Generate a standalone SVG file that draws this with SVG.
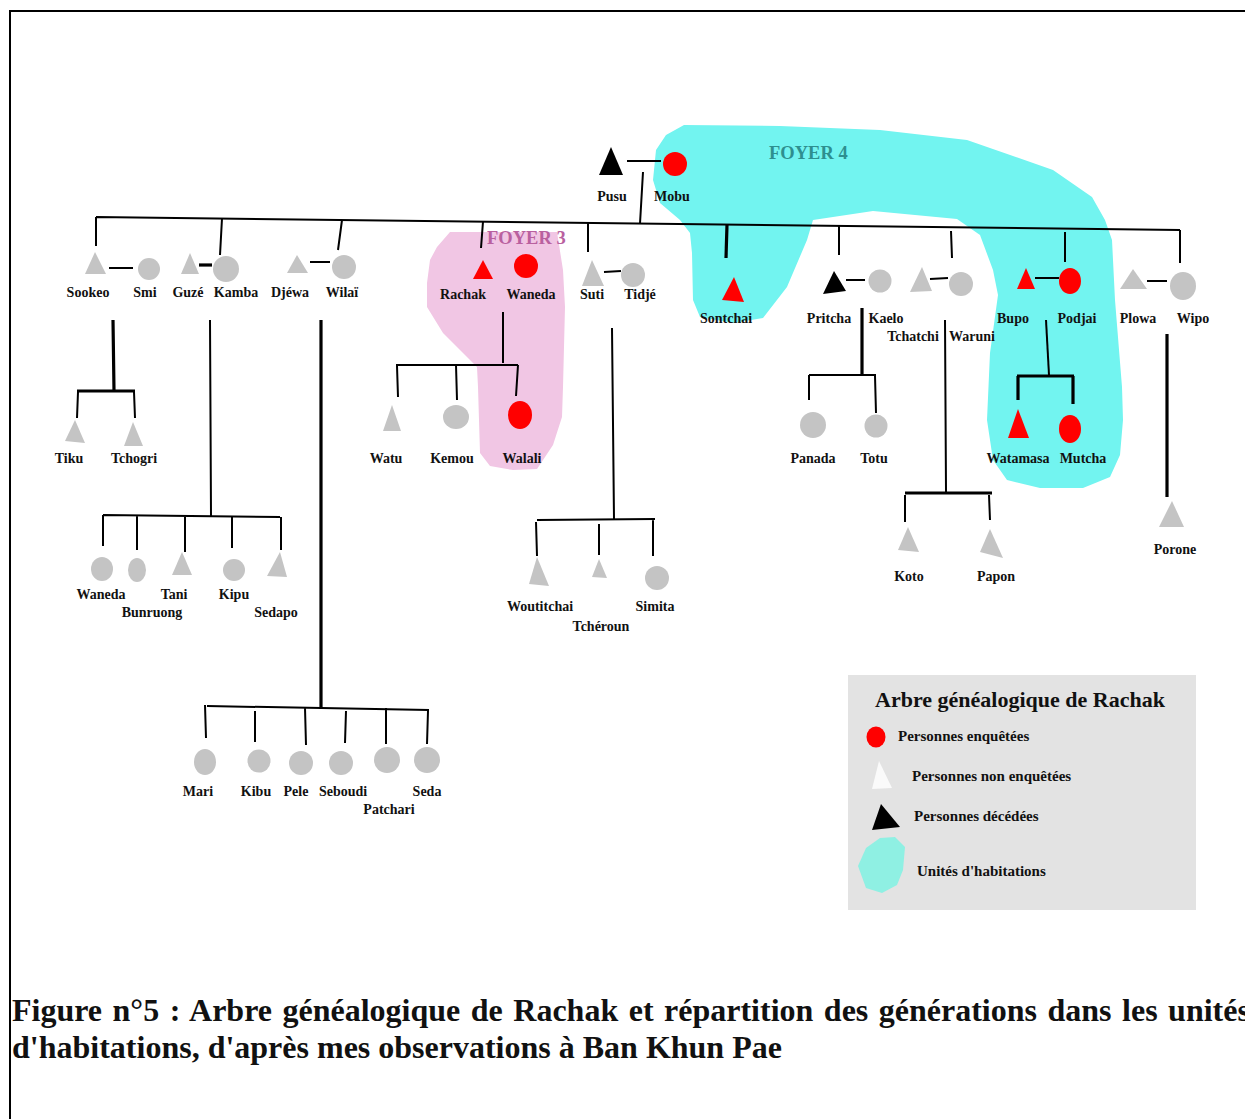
<svg xmlns="http://www.w3.org/2000/svg" width="1245" height="1119" viewBox="0 0 1245 1119">
<style>
.c{stroke:#000;stroke-width:2;fill:none}
.t{stroke-width:3.2}
.g{fill:#c4c4c4}
.r{fill:#ff0000}
.k{fill:#000}
text{font-family:"Liberation Serif","Times New Roman",serif;font-weight:bold;fill:#111}
.n{font-size:14px;text-anchor:middle}
.lg{font-size:15px}
text.f4{fill:#2e8f8f;font-size:18.5px}
text.f3{fill:#b9609f;font-size:18.5px}
</style>
<rect x="0" y="0" width="1245" height="1119" fill="#fff"/>
<path d="M1260,11 H10 V1130" fill="none" stroke="#000" stroke-width="2"/>

<g id="foyers">
<path id="foyer3" fill="#f1c6e4" d="M450,232 L557,232 L563,270 L565,307 L563,387 L562,417 L553,445 L537,469 L513,470 L490,466 L480,453 L478,387 L477,367 L443,333 L427,307 L427,283 L430,260 L437,247 Z"/>
<path id="foyer4" fill="#72f4f0" d="M684,125 L780,126 L880,130 L967,140 L1053,170 L1092,197 L1105,220 L1112,240 L1115,300 L1122,387 L1123,420 L1120,455 L1110,477 L1083,488 L1040,488 L1007,480 L993,460 L987,420 L990,353 L998,295 L993,270 L980,235 L957,219 L873,211 L813,220 L807,240 L787,287 L763,318 L733,323 L700,317 L693,300 L692,253 L690,233 L680,220 L660,203 L653,180 L656,150 L666,135 Z"/>
<text class="f4" x="769" y="159">FOYER 4</text>
<text class="f3" x="487" y="244">FOYER 3</text>
</g>

<g id="connectors" class="c">
<path d="M96,217 L1180,230 M96,217 V246"/>
<path d="M222,218.5 L220,255 M342,220 L338,250 M483,221.6 L481,248 M588,223 V252 M643,172 L640,223.5 M839,226 V255 M951,231 L952,258 M1065,232 V262 M1180,230 V263"/>
<path class="t" d="M727,224.6 L726,258"/>
<path d="M109,268 H133 M310,262 H330 M627,161 H661 M604,272 L621,271 M846,280 H865 M930,279 L948,278 M1035,278 H1059 M1147,281 H1167"/>
<path class="t" d="M199,265 H212"/>
<path class="t" d="M113,320 L114,391 M77,391 H135"/>
<path d="M78,392 L77,418 M134,392 L135,418"/>
<path d="M210,320 L211,516 M103,515 L280,517 M103,515 V546 M137,516 V550 M185,516 V552 M232,516 V548 M281,517 V550"/>
<path class="t" d="M321,320 V708"/>
<path d="M207,706 L429,710 M205,705 L206,738 M255,711 V742 M305,708 L306,745 M346,711 L345,743 M386,708 V744 M428,711 L427,744"/>
<path d="M503,312 V363 M396,365 H518 M397,366 L398,397 M456,365 L457,400 M518,365 L516,396"/>
<path d="M612,328 L614,519 M537,520 L655,519 M536,522 L537,556 M599,524 V555 M653,520 V556"/>
<path class="t" d="M862,308 V375"/>
<path d="M809,375 H876 M809,375 V400 M875,376 L876,413"/>
<path d="M945,320 L946,492 M905,495 V522 M989,495 L990,520"/>
<path class="t" d="M905,493 H992"/>
<path d="M1046,320 L1049,375"/>
<path class="t" d="M1017,376 H1074 M1018,376 V400 M1073,376 V404"/>
<path class="t" d="M1167,334 V497"/>
</g>

<g id="pusu"><polygon class="k" points="611,147 599,175 623,175"/><text class="n" x="612" y="201">Pusu</text></g>
<g id="mobu"><circle class="r" cx="675" cy="164" r="12"/><text class="n" x="672" y="201">Mobu</text></g>
<g id="sookeo"><polygon class="g" points="95,252 85,274 106,274"/><text class="n" x="88" y="297">Sookeo</text></g>
<g id="smi"><circle class="g" cx="149" cy="269" r="11"/><text class="n" x="145" y="297">Smi</text></g>
<g id="guze"><polygon class="g" points="190,253 181,274 199,274"/><text class="n" x="188" y="297">Guzé</text></g>
<g id="kamba"><circle class="g" cx="226" cy="269" r="13"/><text class="n" x="236" y="297">Kamba</text></g>
<g id="djewa"><polygon class="g" points="297,255 287,273 308,273"/><text class="n" x="290" y="297">Djéwa</text></g>
<g id="wilai"><circle class="g" cx="344" cy="267" r="12"/><text class="n" x="342" y="297">Wilaï</text></g>
<g id="tiku"><polygon class="g" points="75,420 65,441 85,443"/><text class="n" x="69" y="463">Tiku</text></g>
<g id="tchogri"><polygon class="g" points="133,422 124,446 143,446"/><text class="n" x="134" y="463">Tchogri</text></g>
<g id="waneda-k"><ellipse class="g" cx="102" cy="569" rx="11" ry="12"/><text class="n" x="101" y="599">Waneda</text></g>
<g id="bunruong"><ellipse class="g" cx="137" cy="570" rx="9" ry="12"/><text class="n" x="152" y="617">Bunruong</text></g>
<g id="tani"><polygon class="g" points="182,552 172,575 192,575"/><text class="n" x="174" y="599">Tani</text></g>
<g id="kipu"><circle class="g" cx="234" cy="570" r="11"/><text class="n" x="234" y="599">Kipu</text></g>
<g id="sedapo"><polygon class="g" points="280,552 267,576 287,577"/><text class="n" x="276" y="617">Sedapo</text></g>
<g id="mari"><ellipse class="g" cx="205" cy="762" rx="11" ry="13"/><text class="n" x="198" y="796">Mari</text></g>
<g id="kibu"><circle class="g" cx="259" cy="761" r="11.5"/><text class="n" x="256" y="796">Kibu</text></g>
<g id="pele"><circle class="g" cx="301" cy="763" r="12"/><text class="n" x="296" y="796">Pele</text></g>
<g id="seboudi"><circle class="g" cx="341" cy="763" r="12"/><text class="n" x="343" y="796">Seboudi</text></g>
<g id="patchari"><circle class="g" cx="387" cy="760" r="13"/><text class="n" x="389" y="814">Patchari</text></g>
<g id="seda"><circle class="g" cx="427" cy="760" r="13"/><text class="n" x="427" y="796">Seda</text></g>
<g id="rachak"><polygon class="r" points="483,260 473,279 493,279"/><text class="n" x="463" y="299">Rachak</text></g>
<g id="waneda"><circle class="r" cx="526" cy="266" r="12"/><text class="n" x="531" y="299">Waneda</text></g>
<g id="watu"><polygon class="g" points="392,405 383,431 401,431"/><text class="n" x="386" y="463">Watu</text></g>
<g id="kemou"><ellipse class="g" cx="456" cy="417" rx="13" ry="12"/><text class="n" x="452" y="463">Kemou</text></g>
<g id="walali"><ellipse class="r" cx="520" cy="415" rx="12" ry="14"/><text class="n" x="522" y="463">Walali</text></g>
<g id="suti"><polygon class="g" points="592,260 582,286 604,286"/><text class="n" x="592" y="299">Suti</text></g>
<g id="tidje"><circle class="g" cx="633" cy="275" r="12"/><text class="n" x="640" y="299">Tidjé</text></g>
<g id="woutitchai"><polygon class="g" points="537,557 529,584 549,586"/><text class="n" x="540" y="611">Woutitchai</text></g>
<g id="tcheroun"><polygon class="g" points="599,559 592,577 607,578"/><text class="n" x="601" y="631">Tchéroun</text></g>
<g id="simita"><circle class="g" cx="657" cy="578" r="12"/><text class="n" x="655" y="611">Simita</text></g>
<g id="sontchai"><polygon class="r" points="734,277 722,300 744,302"/><text class="n" x="726" y="323">Sontchai</text></g>
<g id="pritcha"><polygon class="k" points="834,271 823,294 846,291"/><text class="n" x="829" y="323">Pritcha</text></g>
<g id="kaelo"><circle class="g" cx="880" cy="281" r="11.5"/><text class="n" x="886" y="323">Kaelo</text></g>
<g id="panada"><circle class="g" cx="813" cy="425" r="13"/><text class="n" x="813" y="463">Panada</text></g>
<g id="totu"><circle class="g" cx="876" cy="426" r="11.5"/><text class="n" x="874" y="463">Totu</text></g>
<g id="tchatchi"><polygon class="g" points="922,267 910,292 932,291"/><text class="n" x="913" y="341">Tchatchi</text></g>
<g id="waruni"><circle class="g" cx="961" cy="284" r="12"/><text class="n" x="972" y="341">Waruni</text></g>
<g id="koto"><polygon class="g" points="908,527 898,550 919,552"/><text class="n" x="909" y="581">Koto</text></g>
<g id="papon"><polygon class="g" points="990,529 980,552 1003,558"/><text class="n" x="996" y="581">Papon</text></g>
<g id="bupo"><polygon class="r" points="1026,268 1017,289 1035,289"/><text class="n" x="1013" y="323">Bupo</text></g>
<g id="podjai"><ellipse class="r" cx="1070" cy="281" rx="11" ry="13"/><text class="n" x="1077" y="323">Podjai</text></g>
<g id="watamasa"><polygon class="r" points="1018,409 1008,438 1029,438"/><text class="n" x="1018" y="463">Watamasa</text></g>
<g id="mutcha"><ellipse class="r" cx="1070" cy="429" rx="11" ry="14"/><text class="n" x="1083" y="463">Mutcha</text></g>
<g id="plowa"><polygon class="g" points="1133,269 1120,289 1147,289"/><text class="n" x="1138" y="323">Plowa</text></g>
<g id="wipo"><ellipse class="g" cx="1183" cy="286" rx="13" ry="14"/><text class="n" x="1193" y="323">Wipo</text></g>
<g id="porone"><polygon class="g" points="1172,501 1159,527 1184,527"/><text class="n" x="1175" y="554">Porone</text></g>

<g id="legend">
<rect x="848" y="675" width="348" height="235" fill="#e3e3e3"/>
<text x="875" y="707" font-size="22">Arbre généalogique de Rachak</text>
<ellipse cx="876" cy="737" rx="9.5" ry="10.5" fill="#ff0000"/>
<text class="lg" x="898" y="741">Personnes enquêtées</text>
<polygon points="879,761 872,789 892,788" fill="#fafafa"/>
<text class="lg" x="912" y="781">Personnes non enquêtées</text>
<polygon points="881,804 872,830 900,827" fill="#000"/>
<text class="lg" x="914" y="821">Personnes décédées</text>
<polygon points="880,838 895,837 905,847 903,870 897,885 882,893 866,888 858,866 866,848" fill="#8ff0e3"/>
<text class="lg" x="917" y="876">Unités d'habitations</text>
</g>

<g id="caption">
<text x="12" y="1021" font-size="32" word-spacing="2.5">Figure n°5 : Arbre généalogique de Rachak et répartition des générations dans les unités</text>
<text x="12" y="1058" font-size="32">d'habitations, d'après mes observations à Ban Khun Pae</text>
</g>
</svg>
